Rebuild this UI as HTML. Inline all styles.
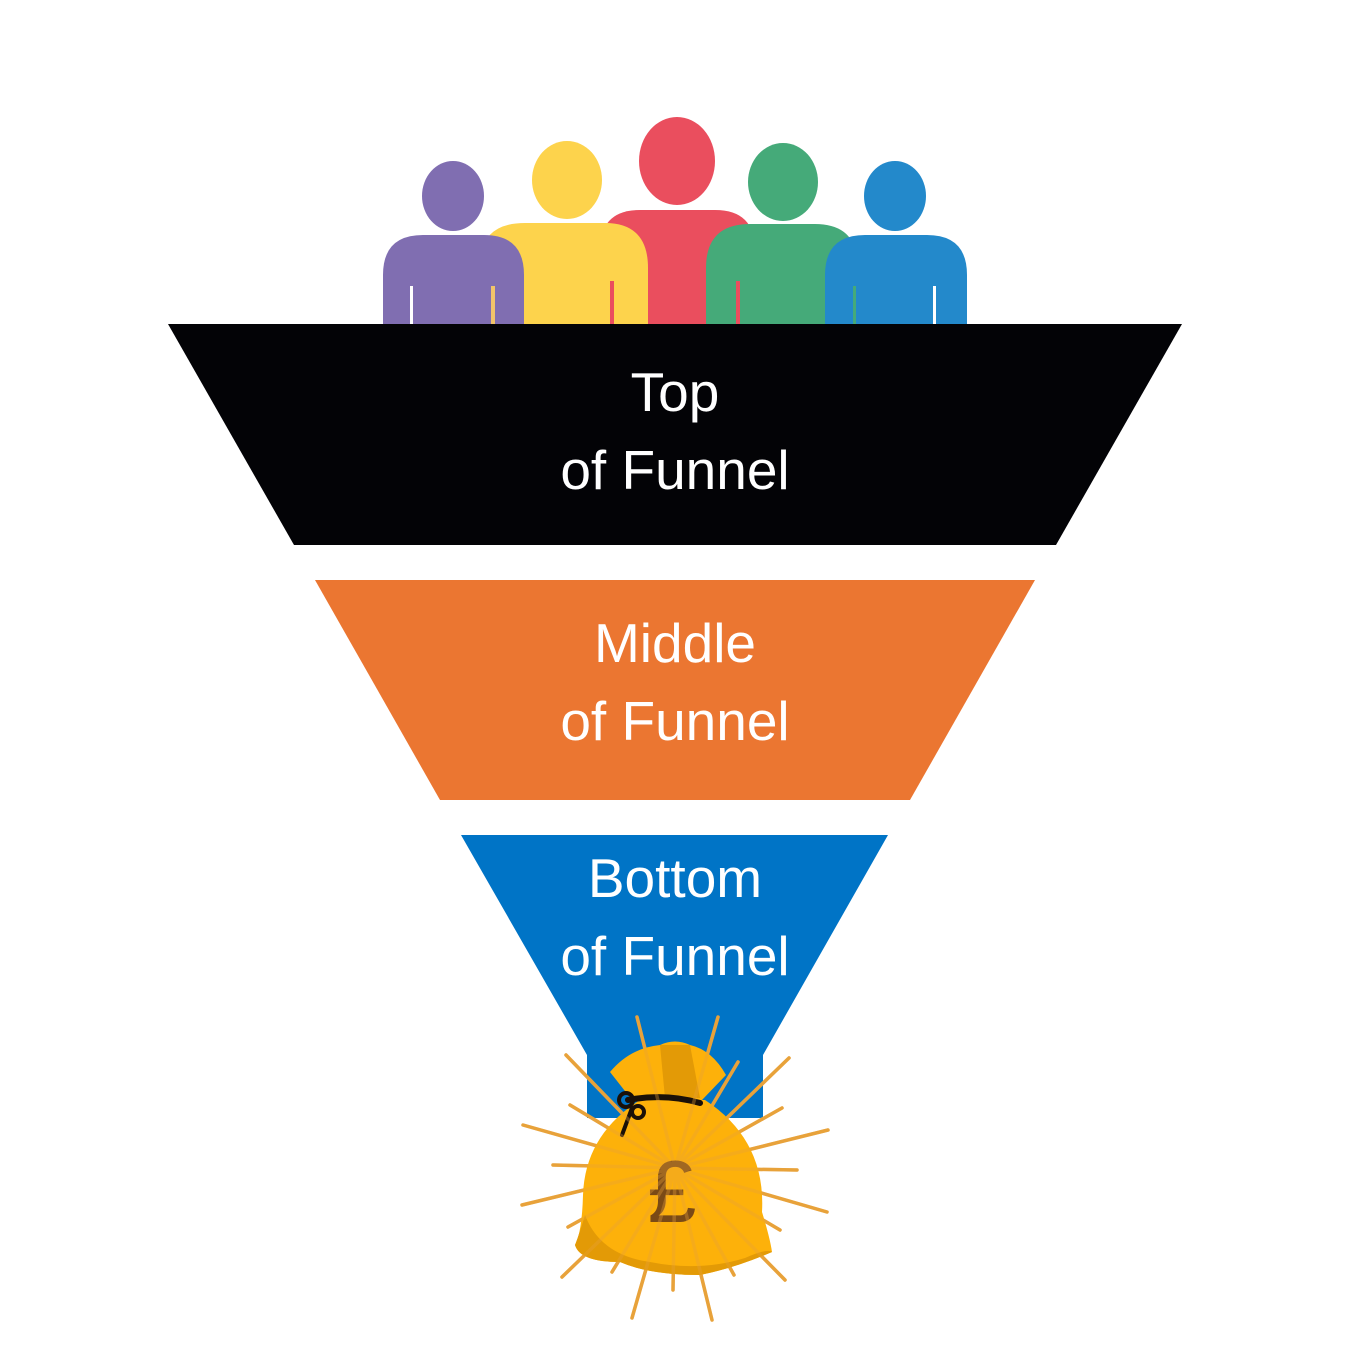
<!DOCTYPE html>
<html><head><meta charset="utf-8"><style>
html,body{margin:0;padding:0;background:#fff}
svg{display:block}
text{font-family:"Liberation Sans",sans-serif;fill:#fff;font-size:55px;text-anchor:middle}
</style></head><body>
<svg width="1350" height="1350" viewBox="0 0 1350 1350" xmlns="http://www.w3.org/2000/svg">
<rect width="1350" height="1350" fill="#fff"/>
<path d="M600,324 V250 Q600,210 640,210 H715 Q755,210 755,250 V324 Z" fill="#ea4e5e"/>
<ellipse cx="677" cy="161" rx="38" ry="44" fill="#ea4e5e"/>
<path d="M480,324 V265 Q480,223 525,223 H605 Q648,223 648,268 V324 Z" fill="#fdd34c"/>
<ellipse cx="567" cy="180" rx="35" ry="39" fill="#fdd34c"/>
<rect x="610" y="281" width="4" height="43" fill="#ea4e5e"/>
<path d="M706,324 V268 Q706,224 750,224 H815 Q858,224 858,268 V324 Z" fill="#45aa79"/>
<ellipse cx="783" cy="182" rx="35" ry="39" fill="#45aa79"/>
<rect x="736" y="281" width="4" height="43" fill="#ea4e5e"/>
<path d="M383,324 V275 Q383,235 423,235 H484 Q524,235 524,275 V324 Z" fill="#806eb1"/>
<ellipse cx="453" cy="196" rx="31" ry="35" fill="#806eb1"/>
<rect x="410" y="286" width="3" height="38" fill="#fff"/>
<rect x="491" y="286" width="4" height="38" fill="#f2c46a"/>
<path d="M825,324 V275 Q825,235 865,235 H927 Q967,235 967,275 V324 Z" fill="#2389cb"/>
<ellipse cx="895" cy="196" rx="31" ry="35" fill="#2389cb"/>
<rect x="853" y="286" width="3" height="38" fill="#45aa79"/>
<rect x="933" y="286" width="3" height="38" fill="#fff"/>
<polygon points="168,324 1182,324 1056,545 294,545" fill="#030306"/>
<polygon points="315,580 1035,580 910,800 440,800" fill="#eb7631"/>
<polygon points="461,835 888,835 763,1055 763,1118 587,1118 587,1055" fill="#0074c6"/>
<text x="675" y="411">Top</text>
<text x="675" y="489">of Funnel</text>
<text x="675" y="662">Middle</text>
<text x="675" y="740">of Funnel</text>
<text x="675" y="897">Bottom</text>
<text x="675" y="975">of Funnel</text>
<g id="rays" stroke="#e8a23a" stroke-width="3.5" stroke-linecap="round">
<line x1="675" y1="1168" x2="637" y2="1017"/>
<line x1="675" y1="1168" x2="718" y2="1017"/>
<line x1="675" y1="1168" x2="566" y2="1055"/>
<line x1="675" y1="1168" x2="789" y2="1058"/>
<line x1="675" y1="1168" x2="570" y2="1105"/>
<line x1="675" y1="1168" x2="782" y2="1108"/>
<line x1="675" y1="1168" x2="738" y2="1062"/>
<line x1="675" y1="1168" x2="523" y2="1125"/>
<line x1="675" y1="1168" x2="828" y2="1130"/>
<line x1="675" y1="1168" x2="553" y2="1165"/>
<line x1="675" y1="1168" x2="797" y2="1170"/>
<line x1="675" y1="1168" x2="522" y2="1205"/>
<line x1="675" y1="1168" x2="827" y2="1212"/>
<line x1="675" y1="1168" x2="568" y2="1227"/>
<line x1="675" y1="1168" x2="780" y2="1230"/>
<line x1="675" y1="1168" x2="562" y2="1277"/>
<line x1="675" y1="1168" x2="785" y2="1280"/>
<line x1="675" y1="1168" x2="612" y2="1272"/>
<line x1="675" y1="1168" x2="734" y2="1275"/>
<line x1="675" y1="1168" x2="632" y2="1318"/>
<line x1="675" y1="1168" x2="712" y2="1320"/>
<line x1="675" y1="1168" x2="673" y2="1290"/>
</g>
<path d="M610,1072 Q630,1048 660,1045 Q675,1038 690,1045 Q712,1050 726,1075 L702,1100 L632,1100 Z" fill="#fdb10a"/>
<path d="M660,1045 L690,1045 L700,1098 L665,1098 Z" fill="#e39a06"/>
<path d="M640,1100 Q585,1135 583,1195 Q582,1232 575,1245 Q580,1262 620,1262 Q650,1275 700,1275 Q735,1268 772,1252 Q770,1238 762,1212 Q766,1140 705,1100 Z" fill="#fdb10a"/>
<path d="M585,1215 Q600,1255 650,1262 Q700,1272 745,1258 Q768,1248 772,1252 Q735,1268 700,1275 Q650,1275 620,1262 Q580,1262 575,1245 Q580,1232 585,1215 Z" fill="#e39a06"/>
<path d="M628,1100 Q665,1093 700,1103" stroke="#1a1008" stroke-width="6" fill="none" stroke-linecap="round"/>
<circle cx="626" cy="1100" r="7" stroke="#1a1008" stroke-width="4" fill="none"/>
<circle cx="638" cy="1112" r="6" stroke="#1a1008" stroke-width="4" fill="none"/>
<line x1="632" y1="1108" x2="622" y2="1135" stroke="#1a1008" stroke-width="4" stroke-linecap="round"/>
<text x="672" y="1222" style="fill:#7a4a16;font-size:88px">£</text>
<use href="#rays" opacity="0.35"/>
</svg>
</body></html>
